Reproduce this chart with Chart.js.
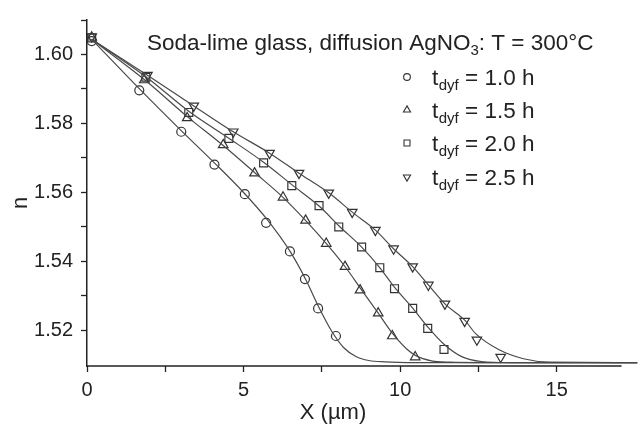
<!DOCTYPE html>
<html>
<head>
<meta charset="utf-8">
<script src="https://cdn.jsdelivr.net/npm/chart.js@4/dist/chart.umd.min.js"></script>
<style>
  html, body { margin: 0; padding: 0; background: #fff; }
  #wrap { width: 644px; height: 429px; }
</style>
</head>
<body>
<div id="wrap"><canvas id="chart" width="644" height="429"></canvas></div>
<script>
// measured points [X (um), n]
const pts10 = [[0.15,1.6039],[1.67,1.5896],[3.01,1.5776],[4.07,1.5681],[5.04,1.5595],[5.72,1.5512],[6.48,1.5429],[6.96,1.5349],[7.38,1.5264],[7.95,1.5184]];
const pts15 = [[0.15,1.6050],[1.83,1.5926],[3.20,1.5816],[4.35,1.5738],[5.35,1.5656],[6.26,1.5586],[6.98,1.5519],[7.64,1.5452],[8.24,1.5385],[8.72,1.5317],[9.30,1.5250],[9.75,1.5184],[10.48,1.5123]];
const pts20 = [[0.15,1.6048],[1.88,1.5934],[3.25,1.5832],[4.53,1.5757],[5.64,1.5686],[6.54,1.5620],[7.41,1.5562],[8.04,1.5500],[8.77,1.5442],[9.35,1.5382],[9.82,1.5321],[10.40,1.5264],[10.88,1.5206],[11.40,1.5145]];
const pts25 = [[0.15,1.6052],[1.93,1.5940],[3.41,1.5851],[4.67,1.5776],[5.83,1.5714],[6.77,1.5656],[7.72,1.5599],[8.47,1.5543],[9.21,1.5491],[9.79,1.5437],[10.40,1.5385],[10.90,1.5332],[11.43,1.5277],[12.06,1.5227],[12.45,1.5173],[13.21,1.5123]];

// fitted curves
const fit10 = [[0.15,1.6044],[1.70,1.5898],[3.00,1.5780],[4.10,1.5683],[5.00,1.5600],[5.75,1.5522],[6.50,1.5427],[7.00,1.5345],[7.40,1.5268],[7.80,1.5200],[8.20,1.5150],[8.60,1.5124],[9.00,1.5113],[9.50,1.5109],[10.5,1.5107],[17.6,1.5107]];
const fit15 = [[0.15,1.6044],[1.85,1.5926],[3.20,1.5820],[4.35,1.5736],[5.35,1.5658],[6.26,1.5586],[7.00,1.5517],[7.65,1.5451],[8.25,1.5384],[8.75,1.5320],[9.30,1.5250],[9.75,1.5192],[10.20,1.5147],[10.50,1.5127],[11.00,1.5112],[11.60,1.5108],[12.5,1.5107],[17.6,1.5107]];
const fit20 = [[0.15,1.6044],[1.90,1.5934],[3.27,1.5834],[4.55,1.5756],[5.65,1.5687],[6.55,1.5622],[7.42,1.5560],[8.05,1.5503],[8.78,1.5441],[9.36,1.5381],[9.83,1.5324],[10.40,1.5265],[10.90,1.5208],[11.40,1.5160],[11.95,1.5125],[12.60,1.5110],[13.5,1.5107],[17.6,1.5107]];
const fit25 = [[0.15,1.6044],[1.93,1.5940],[3.41,1.5851],[4.67,1.5776],[5.83,1.5714],[6.77,1.5656],[7.72,1.5599],[8.47,1.5543],[9.21,1.5491],[9.79,1.5437],[10.40,1.5385],[10.90,1.5332],[11.43,1.5277],[12.06,1.5230],[12.42,1.5190],[13.16,1.5144],[13.94,1.5118],[14.77,1.5108],[17.6,1.5107]];

const seriesLabels = ['1.0 h', '1.5 h', '2.0 h', '2.5 h'];
const yTicks = [1.52, 1.53, 1.54, 1.55, 1.56, 1.57, 1.58, 1.59, 1.60, 1.61];
const yLabelled = [1.52, 1.54, 1.56, 1.58, 1.60];
const xTicks = [0, 2.5, 5, 7.5, 10, 12.5, 15];
const xLabelled = [0, 5, 10, 15];
const xAxisEnd = 17.07;

const ink = '#222';
const lineGrey = '#4a4a4a';
const FONT = '"Liberation Sans", Arial, Helvetica, sans-serif';

const markerStyles = [
  { pointStyle: 'circle', rotation: 0, radius: 4.5 },
  { pointStyle: 'triangle', rotation: 0, radius: 5.5 },
  { pointStyle: 'rect', rotation: 0, radius: 5.6 },
  { pointStyle: 'triangle', rotation: 180, radius: 5.5 }
];

function toXY(arr) { return arr.map(p => ({ x: p[0], y: p[1] })); }

const fits = [fit10, fit15, fit20, fit25];
const measured = [pts10, pts15, pts20, pts25];

const datasets = [];
fits.forEach(f => {
  datasets.push({
    data: toXY(f),
    showLine: true,
    borderColor: lineGrey,
    borderWidth: 1.2,
    pointRadius: 0,
    cubicInterpolationMode: 'monotone',
    fill: false
  });
});
measured.forEach((m, i) => {
  datasets.push({
    data: toXY(m),
    showLine: false,
    pointStyle: markerStyles[i].pointStyle,
    rotation: markerStyles[i].rotation,
    pointRadius: markerStyles[i].radius,
    pointBorderColor: '#333',
    pointBackgroundColor: 'rgba(0,0,0,0)',
    pointBorderWidth: 1.2
  });
});

// x axis line (shorter than the plot), title, legend with subscripts, axis titles
const annotations = {
  id: 'annotations',
  afterDraw(chart) {
    const ctx = chart.ctx;
    const area = chart.chartArea;
    ctx.save();

    ctx.strokeStyle = ink;
    ctx.lineWidth = 1.5;
    ctx.beginPath();
    ctx.moveTo(area.left, area.bottom);
    ctx.lineTo(chart.scales.x.getPixelForValue(xAxisEnd), area.bottom);
    ctx.stroke();

    ctx.fillStyle = ink;
    ctx.textBaseline = 'alphabetic';
    ctx.textAlign = 'left';

    // title
    let x = 147, y = 50;
    ctx.font = '22.5px ' + FONT;
    const t1 = 'Soda-lime glass, diffusion AgNO';
    ctx.fillText(t1, x, y);
    x += ctx.measureText(t1).width;
    ctx.font = '15px ' + FONT;
    ctx.fillText('3', x, y + 5);
    x += ctx.measureText('3').width;
    ctx.font = '22.5px ' + FONT;
    ctx.fillText(': T = 300\u00B0C', x, y);

    // legend
    const rowY = [77, 110, 143, 177];
    rowY.forEach((ry, i) => {
      ctx.strokeStyle = '#333';
      ctx.fillStyle = 'rgba(0,0,0,0)';
      ctx.lineWidth = 1.1;
      Chart.helpers.drawPoint(ctx, {
        pointStyle: markerStyles[i].pointStyle,
        rotation: markerStyles[i].rotation,
        radius: markerStyles[i].radius * 0.75,
        borderWidth: 1.1
      }, 407, ry);
      ctx.fillStyle = ink;
      let lx = 432;
      const base = ry + 8;
      ctx.font = '22.5px ' + FONT;
      ctx.fillText('t', lx, base);
      lx += ctx.measureText('t').width + 0.5;
      ctx.font = '15px ' + FONT;
      ctx.fillText('dyf', lx, base + 5);
      lx += ctx.measureText('dyf').width;
      ctx.font = '22.5px ' + FONT;
      ctx.fillText(' = ' + seriesLabels[i], lx, base);
    });

    // axis titles
    ctx.font = '22px ' + FONT;
    ctx.textAlign = 'center';
    ctx.fillText('X (\u00B5m)', 333, 419);
    ctx.translate(27, 203);
    ctx.rotate(-Math.PI / 2);
    ctx.fillText('n', 0, 0);
    ctx.restore();
  }
};

new Chart(document.getElementById('chart'), {
  type: 'scatter',
  data: { datasets: datasets },
  options: {
    responsive: false,
    animation: false,
    layout: { padding: { top: 10, right: 0, left: 0, bottom: 0 } },
    plugins: { legend: { display: false }, tooltip: { enabled: false } },
    scales: {
      x: {
        type: 'linear',
        min: 0,
        max: 17.57,
        afterFit: s => { s.height = 63; },
        afterBuildTicks: s => { s.ticks = xTicks.map(v => ({ value: v })); },
        border: { display: false },
        grid: { drawOnChartArea: false, drawTicks: true, tickLength: 6, tickColor: ink, tickWidth: 1.3 },
        ticks: {
          color: ink,
          padding: 6,
          maxRotation: 0,
          autoSkip: false,
          font: { family: FONT, size: 20 },
          callback: v => xLabelled.includes(v) ? String(v) : ''
        }
      },
      y: {
        type: 'linear',
        min: 1.5097,
        max: 1.61,
        afterFit: s => { s.width = 87; },
        afterBuildTicks: s => { s.ticks = yTicks.map(v => ({ value: v })); },
        border: { color: ink, width: 1.5 },
        grid: { drawOnChartArea: false, drawTicks: true, tickLength: 6, tickColor: ink, tickWidth: 1.3 },
        ticks: {
          color: ink,
          padding: 8,
          autoSkip: false,
          font: { family: FONT, size: 20 },
          callback: v => yLabelled.some(t => Math.abs(t - v) < 1e-9) ? v.toFixed(2) : ''
        }
      }
    }
  },
  plugins: [annotations]
});
</script>
</body>
</html>
